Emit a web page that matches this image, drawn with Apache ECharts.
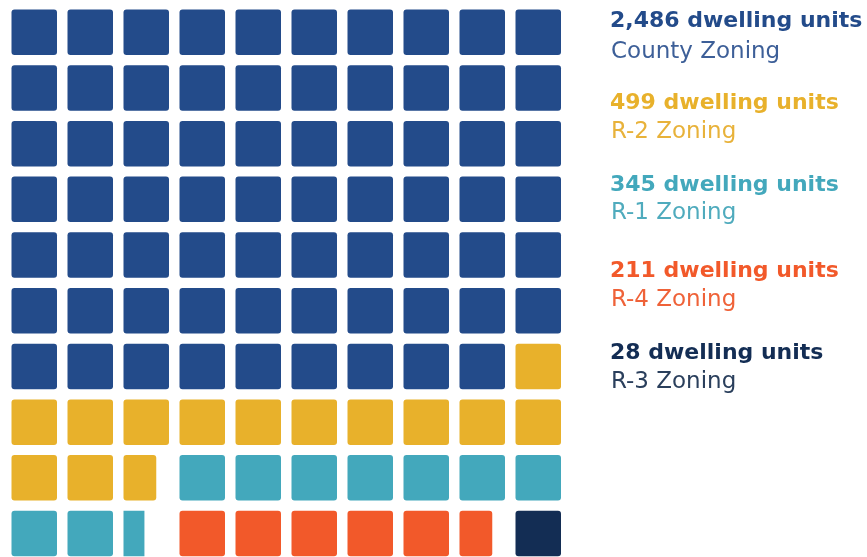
<!DOCTYPE html>
<html>
<head>
<meta charset="utf-8">
<script src="https://cdn.jsdelivr.net/npm/echarts@6/dist/echarts.min.js"></script>
<style>html,body{margin:0;padding:0;background:#fff;}#c{width:867px;height:557px;}</style>
</head>
<body>
<div id="c"></div>
<script>
// Data
var categories = ['County Zoning', 'R-2 Zoning', 'R-1 Zoning', 'R-4 Zoning', 'R-3 Zoning'];
var unitValues = [2486, 499, 345, 211, 28];
// squares occupied by each category in the 10x10 waffle (last one may be partial)
var squares = [69, 13.72, 9.46, 5.72, 1];
var colors = ['#234b8a', '#e8b12b', '#43a8bc', '#f2592a', '#132d54'];
var textColors = ['#3d5f98', '#e8b23a', '#4fabbd', '#ef6238', '#2a3f5c'];

// Build cells: each category starts in a fresh cell
var cells = [];
var idx = 0;
squares.forEach(function (s, k) {
  var n = Math.ceil(s - 1e-9);
  for (var i = 0; i < n; i++) {
    var frac = (i === n - 1) ? (s - (n - 1)) : 1;
    cells.push([idx % 10, Math.floor(idx / 10), frac, k]);
    idx++;
  }
});

var chart = echarts.init(document.getElementById('c'), null, {renderer: 'canvas'});

var graphics = [];
var boldBase = [27, 109, 191, 277, 359];
var regBase = [58, 138, 219, 306, 388];
categories.forEach(function (c, k) {
  graphics.push({
    type: 'text', x: 610, y: boldBase[k] + 5,
    style: {text: unitValues[k].toLocaleString('en-US') + ' dwelling units', fill: colors[k],
      font: 'bold 22px "DejaVu Sans"', verticalAlign: 'bottom'}
  });
  graphics.push({
    type: 'text', x: 611, y: regBase[k] + 6,
    style: {text: c, fill: textColors[k], font: '23px "DejaVu Sans"', verticalAlign: 'bottom'}
  });
});

chart.setOption({
  animation: false,
  grid: {left: 11.5, top: 9.5, width: 560, height: 557, outerBoundsMode: 'none', containLabel: false},
  xAxis: {type: 'value', min: 0, max: 10, show: false},
  yAxis: {type: 'value', min: 0, max: 10, inverse: true, show: false},
  graphic: graphics,
  series: [{
    type: 'custom',
    data: cells,
    renderItem: function (params, api) {
      var col = api.value(0), row = api.value(1), frac = api.value(2), k = api.value(3);
      var p = api.coord([col, row]);
      var sz = api.size([1, 1]);
      var w = (sz[0] - 10.5) * frac;
      var h = sz[1] - 10.2;
      return {
        type: 'rect',
        shape: {x: p[0], y: p[1], width: w, height: h, r: frac < 0.6 ? 0 : 3},
        style: {fill: colors[k]}
      };
    }
  }]
});
</script>
</body>
</html>
